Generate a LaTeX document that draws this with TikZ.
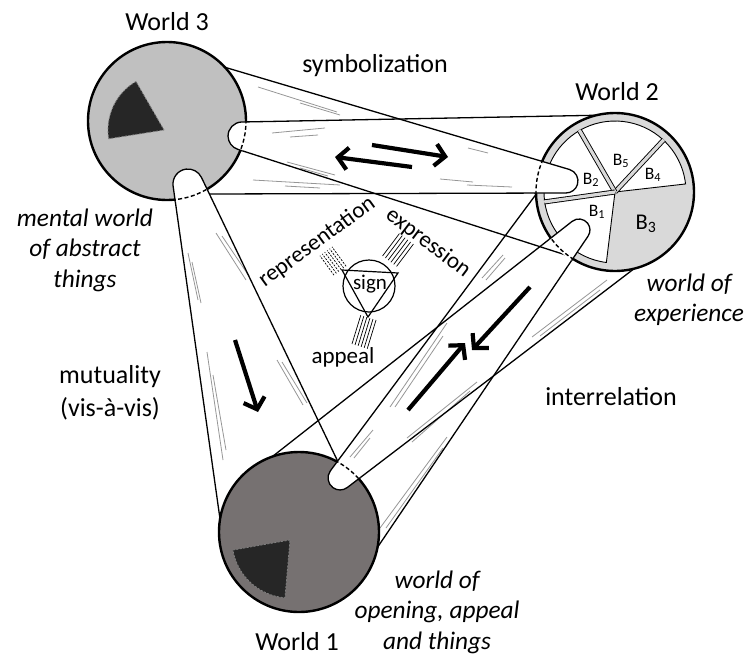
\documentclass[tikz,border=0pt]{standalone}
\usepackage{fontspec}
\setmainfont{Carlito}
\usetikzlibrary{arrows.meta}
\definecolor{wthreefill}{RGB}{192,192,192}
\definecolor{ringfill}{RGB}{217,217,217}
\definecolor{wonefill}{RGB}{118,113,113}
\definecolor{secfill}{RGB}{38,38,38}
\definecolor{streakcol}{RGB}{150,150,150}
\begin{document}
\begin{tikzpicture}[
  x=1pt, y=1pt,
  edge/.style={line width=1.3pt, line join=round},
  streakline/.style={streakcol, line width=0.8pt},
  bigarrow/.style={line width=4.2pt, -{Straight Barb[length=10pt,width=22pt]}},
  worldline/.style={line width=2.4pt},
  secline/.style={draw=gray, line width=0.8pt, dash pattern=on 2pt off 1.5pt},
  dashedge/.style={line width=1.4pt, dash pattern=on 4pt off 2.5pt},
  lbl/.style={font=\fontsize{26}{32.5}\selectfont, inner sep=0pt, align=center},
  ilbl/.style={font=\fontsize{25.3}{30.5}\selectfont\itshape, inner sep=0pt, align=center},
  blbl/.style={font=\fontsize{17.5}{20}\selectfont, inner sep=0pt},
  bbig/.style={font=\fontsize{22.5}{26}\selectfont, inner sep=0pt},
  signlbl/.style={font=\fontsize{23}{28}\selectfont, inner sep=0pt},
  hatchline/.style={line width=0.7pt},
  signline/.style={line width=1.2pt},
  sectorline/.style={line width=0.9pt},
]
\useasboundingbox (0,0) rectangle (747,-656);
% world centres
\coordinate (w3c) at (167,-121);
\coordinate (w2c) at (615,-192);
\coordinate (w1c) at (299,-532);
% cone end points
\coordinate (c1p) at (610,-115); \coordinate (c1t) at (241.7,-122); \coordinate (c1q) at (572,-257);
\coordinate (c2p) at (224,-67);  \coordinate (c2t) at (569.5,-169.5); \coordinate (c2q) at (209,-194);
\coordinate (c3p) at (268,-460); \coordinate (c3t) at (572.2,-221.3); \coordinate (c3q) at (375,-551);
\coordinate (c4p) at (537,-193); \coordinate (c4t) at (330.4,-470.8); \coordinate (c4q) at (635,-268);
\coordinate (c5p) at (221,-526); \coordinate (c5t) at (173.1,-186); \coordinate (c5q) at (340,-466);
\def\coneone{(c1p) -- (c1t) arc[start angle=91.4, end angle=252.1, radius=14] -- (c1q)}
\def\conetwo{(c2p) -- (c2t) arc[start angle=73, end angle=-89.8, radius=12] -- (c2q)}
\def\conethree{(c3p) -- (c3t) arc[start angle=127.9, end angle=-33.9, radius=11] -- (c3q)}
\def\conefour{(c4p) -- (c4t) arc[start angle=143.4, end angle=306.9, radius=12] -- (c4q)}
\def\conefive{(c5p) -- (c5t) arc[start angle=187.7, end angle=26, radius=15] -- (c5q)}

% gray streaks
\draw[streakline] (258,-87) -- (337,-112);  \draw[streakline] (300,-103) -- (340,-115);
\draw[streakline] (272,-133) -- (325,-128); \draw[streakline] (290,-137) -- (318,-135);
\draw[streakline] (287,-162) -- (335,-175); \draw[streakline] (300,-168) -- (328,-176);
\draw[streakline] (253,-180) -- (340,-185); \draw[streakline] (285,-186) -- (320,-188);
\draw[streakline] (468,-148) -- (488,-153);
\draw[streakline] (440,-179) -- (473,-182); \draw[streakline] (467,-185) -- (512,-187);
\draw[streakline] (216,-233) -- (246,-280); \draw[streakline] (222,-236) -- (249,-276);
\draw[streakline] (188,-253) -- (198,-300); \draw[streakline] (192,-262) -- (201,-303);
\draw[streakline] (207,-352) -- (223,-460); \draw[streakline] (213,-375) -- (226,-450);
\draw[streakline] (277,-360) -- (303,-405); \draw[streakline] (282,-362) -- (307,-403);
\draw[streakline] (482,-278) -- (503,-255); \draw[streakline] (486,-280) -- (505,-258);
\draw[streakline] (390,-407) -- (447,-323); \draw[streakline] (395,-407) -- (443,-336);
\draw[streakline] (350,-457) -- (373,-430); \draw[streakline] (354,-458) -- (370,-438);
\draw[streakline] (407,-438) -- (477,-382); \draw[streakline] (412,-442) -- (470,-391);
\draw[streakline] (532,-337) -- (607,-280); \draw[streakline] (540,-336) -- (600,-290);
\draw[streakline] (380,-528) -- (447,-437); \draw[streakline] (386,-528) -- (443,-448);

% cone outlines
\draw[edge] \coneone;
\draw[edge] \conetwo;
\draw[edge] \conethree;
\draw[edge] \conefour;
\draw[edge] \conefive;

% arrows
\coordinate (a1s) at (412,-167); \coordinate (a1e) at (335,-157);
\coordinate (a2s) at (372,-145); \coordinate (a2e) at (448,-157);
\coordinate (a3s) at (235,-340); \coordinate (a3e) at (258,-412);
\coordinate (a4s) at (408,-410); \coordinate (a4e) at (465,-343);
\coordinate (a5s) at (530,-287); \coordinate (a5e) at (472,-350);
\draw[bigarrow] (a1s) -- (a1e);
\draw[bigarrow] (a2s) -- (a2e);
\draw[bigarrow] (a3s) -- (a3e);
\draw[bigarrow] (a4s) -- (a4e);
\draw[bigarrow] (a5s) -- (a5e);

% sign symbol
\node[circle, draw, signline, minimum size=52pt, inner sep=0pt] (signc) at (369,-286) {};
\coordinate (tv1) at (342,-270); \coordinate (tv2) at (398,-273); \coordinate (tv3) at (368,-317);
\draw[signline] (tv1) -- (tv2) -- (tv3) -- cycle;
\node[font=\fontsize{21}{24}\selectfont, inner sep=0pt] (signt) at (370,-284) {sign};
\begin{scope}[shift={(333,-261)}, rotate=126]
  \foreach \o in {-7.5,-4.5,...,7.6} \draw[hatchline, dash pattern=on 2pt off 1.3pt] (-12,\o) -- (12,\o);
\end{scope}
\begin{scope}[shift={(398,-250)}, rotate=53]
  \foreach \o in {-8.75,-5.25,...,8.8} \draw[hatchline] (-14,\o) -- (14,\o);
\end{scope}
\begin{scope}[shift={(364,-332)}, rotate=73]
  \foreach \o in {-8,-4.8,...,8.1} \draw[hatchline] (-15,\o) -- (15,\o);
\end{scope}
\node[signlbl, rotate=36] (trep) at (317,-242) {representation};
\node[signlbl, rotate=-37] (texpr) at (428,-243) {expression};
\node[signlbl] (tapp) at (343,-357) {appeal};

% World 3
\fill[wthreefill] (w3c) circle[radius=79];
\filldraw[fill=secfill, secline] (164,-130) -- ++(120:56) arc[start angle=120, end angle=189, radius=56] -- cycle;
\draw[worldline] (w3c) circle[radius=79];

% World 2
\fill[ringfill] (w2c) circle[radius=79];
\begin{scope}[shift={(w2c)}]
  \filldraw[fill=white, sectorline] (0,0) -- (47:71) arc[start angle=47, end angle=120, radius=71] -- cycle;
  \filldraw[fill=white, sectorline] (0,0) -- (6.5:71) arc[start angle=6.5, end angle=47, radius=71] -- cycle;
  \filldraw[fill=white, sectorline] (0,0) -- (120:71) arc[start angle=120, end angle=188, radius=71] -- cycle;
  \filldraw[fill=white, sectorline] (0,0) -- (188:71) arc[start angle=188, end angle=263, radius=71] -- cycle;
  \foreach \a in {47,120,188} \draw[sectorline, double=ringfill, double distance=3.2pt] (0,0) -- (\a:71.5);
\end{scope}
\draw[worldline] (w2c) circle[radius=79];

% World 1
\fill[wonefill] (w1c) circle[radius=80];
\filldraw[fill=secfill, secline] (290,-540) -- ++(190:58) arc[start angle=190, end angle=265, radius=58] -- cycle;
\draw[worldline] (w1c) circle[radius=80];

% finger tips inside the worlds
\begin{scope}
  \clip (w3c) circle[radius=81];
  \fill[white] \coneone -- cycle;
  \fill[white] \conefive -- cycle;
  \draw[edge] \coneone;
  \draw[edge] \conefive;
\end{scope}
\begin{scope}
  \clip \coneone -- cycle;
  \draw[dashedge] (w3c) circle[radius=79];
\end{scope}
\begin{scope}
  \clip \conefive -- cycle;
  \draw[dashedge] (w3c) circle[radius=79];
\end{scope}
\begin{scope}
  \clip (w2c) circle[radius=81];
  \fill[white] \conetwo -- cycle;
  \fill[white] \conethree -- cycle;
  \draw[edge] \conetwo;
  \draw[edge] \conethree;
\end{scope}
\begin{scope}
  \clip \conetwo -- cycle;
  \draw[dashedge] (w2c) circle[radius=79];
\end{scope}
\begin{scope}
  \clip \conethree -- cycle;
  \draw[dashedge] (w2c) circle[radius=79];
\end{scope}
\begin{scope}
  \clip (w1c) circle[radius=82];
  \fill[white] \conefour -- cycle;
  \draw[edge] \conefour;
\end{scope}
\begin{scope}
  \clip \conefour -- cycle;
  \draw[dashedge] (w1c) circle[radius=80];
\end{scope}

% B labels
\node[blbl] (b1) at (597,-212) {B\textsubscript{1}};
\node[blbl] (b2) at (591,-180) {B\textsubscript{2}};
\node[blbl] (b5) at (621,-161) {B\textsubscript{5}};
\node[blbl] (b4) at (653,-175) {B\textsubscript{4}};
\node[bbig] (b3) at (646,-224) {B\textsubscript{3}};

% labels
\node[lbl] (t3) at (167,-22) {World 3};
\node[lbl] (t2) at (617,-92) {World 2};
\node[lbl] (t1) at (297,-642) {World 1};
\node[lbl] (tsym) at (375,-66) {symbolization};
\node[lbl] (tint) at (611,-397) {interrelation};
\node[lbl] (tmut) at (110,-393) {mutuality\\(vis-à-vis)};
\node[ilbl] (tmen) at (85,-250) {mental world\\of abstract\\things};
\node[ilbl] (texp) at (689,-300) {world of\\experience};
\node[ilbl] (topen) at (437,-612) {world of\\opening, appeal\\and things};
\end{tikzpicture}
\end{document}
